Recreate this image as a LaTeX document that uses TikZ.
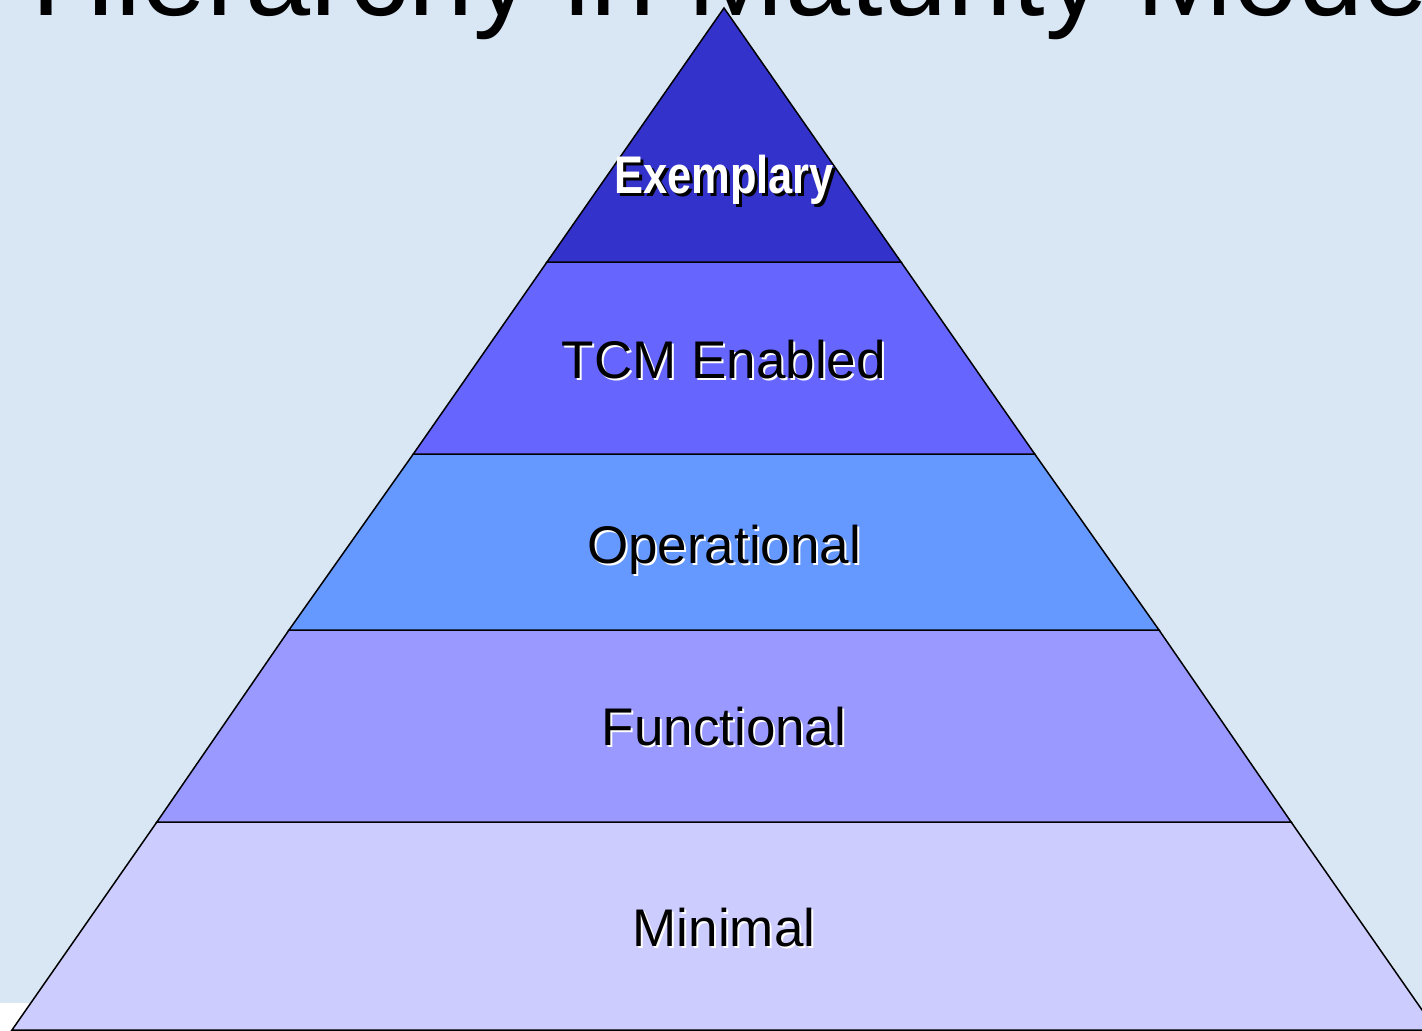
\documentclass[tikz,border=0pt]{standalone}
\usepackage{fontspec}
\setmainfont{Liberation Sans}
\usepackage{graphicx}

\definecolor{paper}{HTML}{D9E7F5}
\definecolor{lvlA}{HTML}{3333CC}
\definecolor{lvlB}{HTML}{6666FF}
\definecolor{lvlC}{HTML}{6699FF}
\definecolor{lvlD}{HTML}{9999FF}
\definecolor{lvlE}{HTML}{CCCCFF}

\tikzset{
  layer/.style={draw=black, line width=1.5pt, line join=miter},
  lbl/.style={anchor=base, inner sep=0pt, font=\fontsize{53}{53}\selectfont},
  title/.style={anchor=base west, inner sep=0pt, font=\fontsize{117}{117}\selectfont}
}

\begin{document}
\begin{tikzpicture}[x=1pt,y=-1pt]
\useasboundingbox (0,0) rectangle (1422,1031);
\clip (0,0) rectangle (1422,1031);

% backdrop
\fill[paper] (0,0) rectangle (1422,1031);
\fill[white] (0,1003) rectangle (90,1031);

% slide heading, running off the top edge
\node[title] (heading) at (31,15) {Hierarchy in Maturity Model};

% pyramid corner points
\coordinate (apex) at (724,8);
\coordinate (l1) at (547.0,262);  \coordinate (r1) at (901.0,262);
\coordinate (l2) at (413.3,454);  \coordinate (r2) at (1034.7,454);
\coordinate (l3) at (289.0,630);  \coordinate (r3) at (1159.0,630);
\coordinate (l4) at (156.9,822);  \coordinate (r4) at (1291.1,822);
\coordinate (l5) at (12,1030);    \coordinate (r5) at (1436,1030);

% pyramid layers
\filldraw[layer, fill=lvlE] (l4) -- (r4) -- (r5) -- (l5) -- cycle;
\filldraw[layer, fill=lvlD] (l3) -- (r3) -- (r4) -- (l4) -- cycle;
\filldraw[layer, fill=lvlC] (l2) -- (r2) -- (r3) -- (l3) -- cycle;
\filldraw[layer, fill=lvlB] (l1) -- (r1) -- (r2) -- (l2) -- cycle;
\filldraw[layer, fill=lvlA] (apex) -- (r1) -- (l1) -- cycle;

% level labels with offset shadows
\node[lbl, text=black] (exemplaryShadow) at (727,196)
  {\scalebox{0.82}[1]{\bfseries Exemplary}};
\node[lbl, text=white] (exemplary) at (724,193)
  {\scalebox{0.82}[1]{\bfseries Exemplary}};

\node[lbl, text=white] (tcmShadow) at (726,380) {TCM Enabled};
\node[lbl, text=black] (tcm) at (724,378) {TCM Enabled};

\node[lbl, text=white] (operationalShadow) at (726,565) {Operational};
\node[lbl, text=black] (operational) at (724,563) {Operational};

\node[lbl, text=white] (functionalShadow) at (726,747) {Functional};
\node[lbl, text=black] (functional) at (724,745) {Functional};

\node[lbl, text=white] (minimalShadow) at (726,948) {Minimal};
\node[lbl, text=black] (minimal) at (724,946) {Minimal};
\end{tikzpicture}
\end{document}
